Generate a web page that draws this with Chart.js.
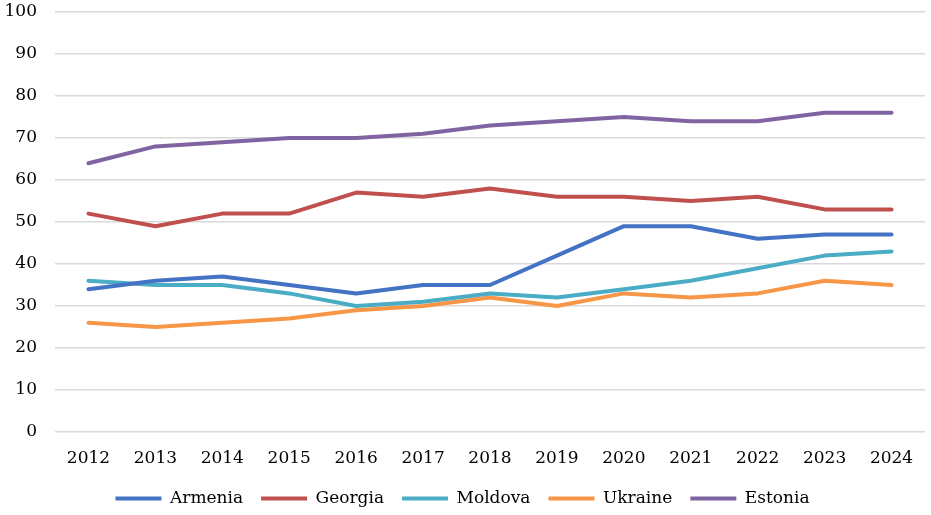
<!DOCTYPE html>
<html>
<head>
<meta charset="utf-8">
<script src="https://cdn.jsdelivr.net/npm/chart.js@4"></script>
<style>
  html, body { margin: 0; padding: 0; background: #fff; overflow: hidden; }
  canvas { display: block; }
</style>
</head>
<body>
<canvas id="chart" width="931" height="515"></canvas>
<script>
const years = ['2012','2013','2014','2015','2016','2017','2018','2019','2020','2021','2022','2023','2024'];
const armenia = [34, 36, 37, 35, 33, 35, 35, 42, 49, 49, 46, 47, 47];
const georgia = [52, 49, 52, 52, 57, 56, 58, 56, 56, 55, 56, 53, 53];
const moldova = [36, 35, 35, 33, 30, 31, 33, 32, 34, 36, 39, 42, 43];
const ukraine = [26, 25, 26, 27, 29, 30, 32, 30, 33, 32, 33, 36, 35];
const estonia = [64, 68, 69, 70, 70, 71, 73, 74, 75, 74, 74, 76, 76];

function series(label, data, color) {
    return {
        label: label,
        data: data,
        borderColor: color,
        backgroundColor: color,
        borderWidth: 4,
        borderCapStyle: 'round',
        borderJoinStyle: 'round',
        pointRadius: 0,
        pointStyle: 'line',
        tension: 0
    }
}

const data = {
    labels: years,
    datasets: [
        series('Armenia', armenia, '#4472C4'),
        series('Georgia', georgia, '#C0504D'),
        series('Moldova', moldova, '#4BACC6'),
        series('Ukraine', ukraine, '#F79646'),
        series('Estonia', estonia, '#8064A2')
    ]
};

// small nudge so the legend sits a bit lower
const legendShift = {
    id: 'legendShift',
    afterLayout(chart) {
        chart.legend.top += 2;
        chart.legend.bottom += 2;
    }
};

Chart.defaults.font.family = '"DejaVu Serif", serif';
Chart.defaults.font.size = 17;
Chart.defaults.color = '#000';

const config = {
    type: 'line',
    data: data,
    plugins: [legendShift],
    options: {
        responsive: false,
        animation: false,
        layout: { padding: { top: 0, right: 6, left: 0, bottom: 0 } },
        scales: {
            x: {
                offset: true,
                grid: { display: false },
                border: { display: false },
                ticks: { padding: 8, maxRotation: 0 },
                afterFit: function(scale) { scale.height = 38; }
            },
            y: {
                min: 0,
                max: 100,
                ticks: { stepSize: 10, padding: 18 },
                grid: { color: '#d9d9d9', lineWidth: 1.5, drawTicks: false },
                border: { display: false },
                afterFit: function(scale) {
                    // tick padding would otherwise push the plot down
                    scale.width = 55;
                    scale.paddingTop = 12;
                    scale.paddingBottom = 0;
                }
            }
        },
        plugins: {
            legend: {
                position: 'bottom',
                labels: {
                    usePointStyle: true,
                    pointStyleWidth: 46,
                    boxHeight: 4,
                    padding: 18,
                    font: { size: 17 }
                }
            },
            tooltip: { enabled: false }
        }
    }
};

new Chart(document.getElementById('chart').getContext('2d'), config);
</script>
</body>
</html>
